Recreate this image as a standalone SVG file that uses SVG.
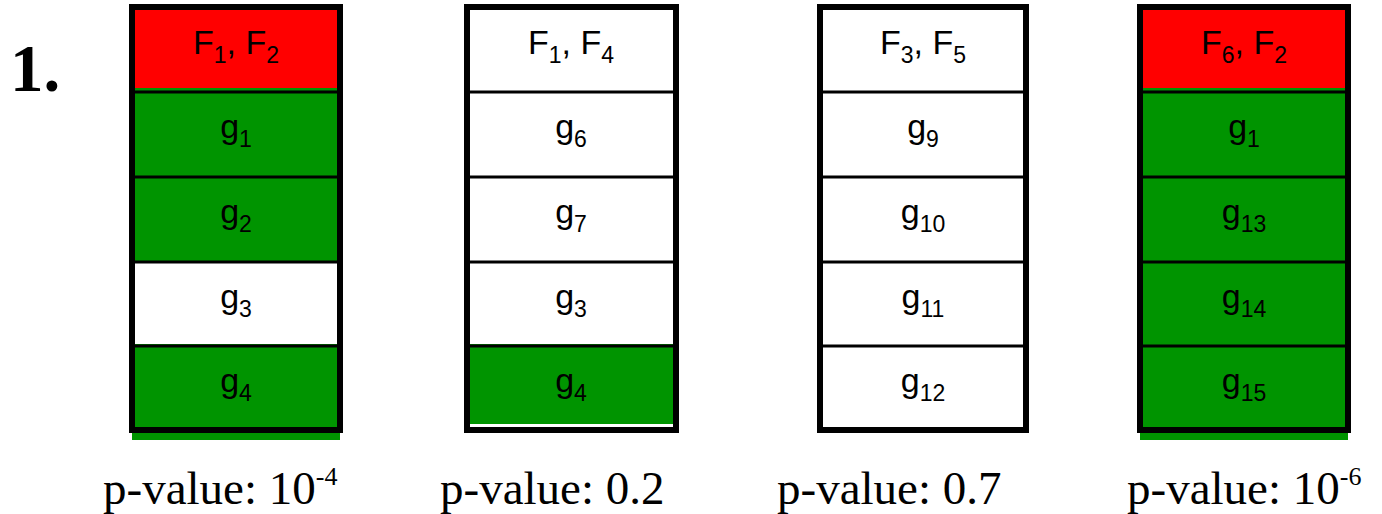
<svg xmlns="http://www.w3.org/2000/svg" width="1382" height="514" viewBox="0 0 1382 514">
<style>
.frame{fill:none;stroke:#000;stroke-width:6}
.div{stroke:#000;stroke-width:3}
.red{fill:#ff0000}
.grn{fill:#009400}
.wht{fill:#fff}
.lbl{font-family:"Liberation Sans",Arial,sans-serif;font-size:34px;fill:#000;text-anchor:middle}
.sub{font-size:23px}
.pv{font-family:"Liberation Serif","Times New Roman",serif;font-size:47px;fill:#000}
.sup{font-size:26px}
.num{font-family:"Liberation Serif","Times New Roman",serif;font-size:67px;font-weight:bold;fill:#000}
</style>
<rect width="1382" height="514" fill="#fff"/>
<text class="num" x="10" y="91">1.</text>

<g id="col1">
<rect class="red" x="132" y="7" width="208" height="85"/>
<rect class="grn" x="132" y="88" width="208" height="174"/>
<rect class="grn" x="132" y="344" width="208" height="86"/>
<rect class="grn" x="132" y="433" width="208" height="7"/>
<line class="div" x1="132" y1="92" x2="340" y2="92"/>
<line class="div" x1="132" y1="177" x2="340" y2="177"/>
<line class="div" x1="132" y1="262" x2="340" y2="262"/>
<line class="div" x1="132" y1="346" x2="340" y2="346"/>
<rect class="frame" x="132" y="7" width="208" height="423"/>
<text class="lbl" x="236" y="54">F<tspan class="sub" dy="9">1</tspan><tspan dy="-9">, F</tspan><tspan class="sub" dy="9">2</tspan></text>
<text class="lbl" x="236" y="138">g<tspan class="sub" dy="9">1</tspan></text>
<text class="lbl" x="236" y="223">g<tspan class="sub" dy="9">2</tspan></text>
<text class="lbl" x="236" y="308">g<tspan class="sub" dy="9">3</tspan></text>
<text class="lbl" x="236" y="392">g<tspan class="sub" dy="9">4</tspan></text>
</g>

<g id="col2">
<rect class="grn" x="467" y="344" width="209" height="80"/>
<line class="div" x1="467" y1="92" x2="676" y2="92"/>
<line class="div" x1="467" y1="177" x2="676" y2="177"/>
<line class="div" x1="467" y1="262" x2="676" y2="262"/>
<line class="div" x1="467" y1="346" x2="676" y2="346"/>
<rect class="frame" x="467" y="7" width="209" height="423"/>
<text class="lbl" x="571" y="54">F<tspan class="sub" dy="9">1</tspan><tspan dy="-9">, F</tspan><tspan class="sub" dy="9">4</tspan></text>
<text class="lbl" x="571" y="138">g<tspan class="sub" dy="9">6</tspan></text>
<text class="lbl" x="571" y="223">g<tspan class="sub" dy="9">7</tspan></text>
<text class="lbl" x="571" y="308">g<tspan class="sub" dy="9">3</tspan></text>
<text class="lbl" x="571" y="392">g<tspan class="sub" dy="9">4</tspan></text>
</g>

<g id="col3">
<line class="div" x1="820" y1="92" x2="1026" y2="92"/>
<line class="div" x1="820" y1="177" x2="1026" y2="177"/>
<line class="div" x1="820" y1="262" x2="1026" y2="262"/>
<line class="div" x1="820" y1="346" x2="1026" y2="346"/>
<rect class="frame" x="820" y="7" width="206" height="423"/>
<text class="lbl" x="923" y="54">F<tspan class="sub" dy="9">3</tspan><tspan dy="-9">, F</tspan><tspan class="sub" dy="9">5</tspan></text>
<text class="lbl" x="923" y="138">g<tspan class="sub" dy="9">9</tspan></text>
<text class="lbl" x="923" y="223">g<tspan class="sub" dy="9">10</tspan></text>
<text class="lbl" x="923" y="308">g<tspan class="sub" dy="9">11</tspan></text>
<text class="lbl" x="923" y="392">g<tspan class="sub" dy="9">12</tspan></text>
</g>

<g id="col4">
<rect class="red" x="1140" y="7" width="208" height="85"/>
<rect class="grn" x="1140" y="88" width="208" height="342"/>
<rect class="grn" x="1140" y="433" width="208" height="7"/>
<line class="div" x1="1140" y1="92" x2="1348" y2="92"/>
<line class="div" x1="1140" y1="177" x2="1348" y2="177"/>
<line class="div" x1="1140" y1="262" x2="1348" y2="262"/>
<line class="div" x1="1140" y1="346" x2="1348" y2="346"/>
<rect class="frame" x="1140" y="7" width="208" height="423"/>
<text class="lbl" x="1244" y="54">F<tspan class="sub" dy="9">6</tspan><tspan dy="-9">, F</tspan><tspan class="sub" dy="9">2</tspan></text>
<text class="lbl" x="1244" y="138">g<tspan class="sub" dy="9">1</tspan></text>
<text class="lbl" x="1244" y="223">g<tspan class="sub" dy="9">13</tspan></text>
<text class="lbl" x="1244" y="308">g<tspan class="sub" dy="9">14</tspan></text>
<text class="lbl" x="1244" y="392">g<tspan class="sub" dy="9">15</tspan></text>
</g>

<g id="labels">
<text class="pv" x="103" y="504">p-value: 10<tspan class="sup" dy="-19">-4</tspan></text>
<text class="pv" x="440" y="504">p-value: 0.2</text>
<text class="pv" x="777" y="504">p-value: 0.7</text>
<text class="pv" x="1127" y="504">p-value: 10<tspan class="sup" dy="-19">-6</tspan></text>
</g>
</svg>
